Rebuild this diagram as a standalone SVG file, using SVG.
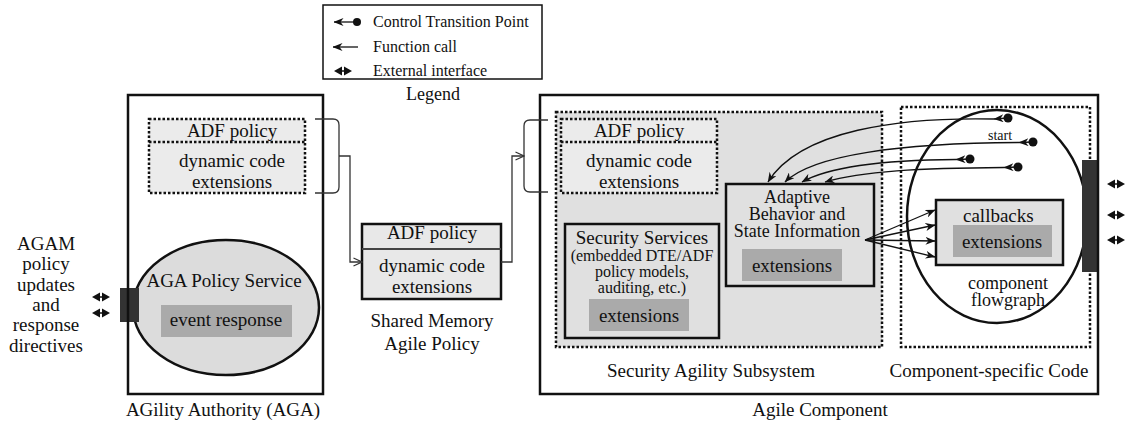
<svg xmlns="http://www.w3.org/2000/svg" width="1127" height="423" viewBox="0 0 1127 423" font-family="'Liberation Serif', 'DejaVu Serif', serif">
<style>
text{font-family:'Liberation Serif','Times New Roman','DejaVu Serif',serif;fill:#111;font-size:19px}
.c{text-anchor:middle}
.s16{font-size:16px}
.s14{font-size:14px}
.s18{font-size:18px}
.frame{fill:none;stroke:#111;stroke-width:2.5}
.dot{stroke:#111;stroke-width:2.5;stroke-dasharray:2.5,2}
.solid{stroke:#111;stroke-width:2.5}
.ext{fill:#aaaaaa}
.bar{fill:#333}
.thin{fill:none;stroke:#333;stroke-width:1.3}
.ln{fill:none;stroke:#111;stroke-width:1.3}
</style>
<defs>
<marker id="ah" viewBox="0 0 10 8" refX="9.5" refY="4" markerWidth="10" markerHeight="8" markerUnits="userSpaceOnUse" orient="auto">
<path d="M0,0 L10,4 L0,8 L3,4 Z" fill="#111"/>
</marker>
<marker id="open" viewBox="0 0 10 10" refX="9.5" refY="5" markerWidth="10" markerHeight="10" markerUnits="userSpaceOnUse" orient="auto">
<path d="M1,1 L9.5,5 L1,9" fill="none" stroke="#333" stroke-width="1.2"/>
</marker>
<g id="dbl">
<path d="M0,0 L8,-4.5 L8,4.5 Z M18,0 L10,-4.5 L10,4.5 Z" fill="#111"/>
<path d="M6,0 H12" stroke="#111" stroke-width="1.5"/>
</g>
</defs>
<rect width="1127" height="423" fill="#fff"/>

<g id="legend">
<rect x="323" y="5" width="219" height="74" fill="#fff" stroke="#111" stroke-width="1.5"/>
<path d="M350,22 L334,22" class="ln" marker-end="url(#ah)"/>
<path d="M350,22 H356" class="ln"/>
<circle cx="357" cy="22" r="4" fill="#111"/>
<path d="M358,47 L333,47" class="ln" marker-end="url(#ah)"/>
<use href="#dbl" x="334" y="71"/>
<text x="373" y="27" class="s16">Control Transition Point</text>
<text x="373" y="52" class="s16">Function call</text>
<text x="373" y="76" class="s16">External interface</text>
<text x="433" y="100" class="c s18">Legend</text>
</g>

<g id="agam-label">
<text x="46" y="250" class="c">AGAM</text>
<text x="46" y="270" class="c">policy</text>
<text x="46" y="291" class="c">updates</text>
<text x="46" y="311" class="c">and</text>
<text x="46" y="331" class="c">response</text>
<text x="46" y="352" class="c">directives</text>
<use href="#dbl" x="92" y="297"/>
<use href="#dbl" x="92" y="313"/>
</g>

<g id="aga">
<rect x="149" y="119" width="156" height="74" fill="#ebebeb" class="dot"/>
<line x1="149" y1="142" x2="305" y2="142" class="dot"/>
<text x="232" y="137" class="c">ADF policy</text>
<text x="232" y="167" class="c">dynamic code</text>
<text x="232" y="188" class="c">extensions</text>
<ellipse cx="226" cy="307.5" rx="93" ry="67.5" fill="#dcdcdc" class="solid"/>
<text x="224" y="287" class="c">AGA Policy Service</text>
<rect x="161" y="305" width="131" height="32" class="ext"/>
<text x="226" y="326" class="c">event response</text>
<rect x="120" y="288" width="19" height="34" class="bar"/>
<rect x="128" y="95" width="195" height="299" class="frame"/>
<text x="223" y="416" class="c">AGility Authority (AGA)</text>
</g>

<g id="shared-memory">
<rect x="362" y="224" width="139" height="75" fill="#e8e8e8" class="solid"/>
<line x1="362" y1="249" x2="501" y2="249" stroke="#444" stroke-width="2"/>
<text x="432" y="239" class="c">ADF policy</text>
<text x="432" y="272" class="c">dynamic code</text>
<text x="432" y="293" class="c">extensions</text>
<text x="432" y="327" class="c">Shared Memory</text>
<text x="432" y="350" class="c">Agile Policy</text>
</g>

<g id="agile-component">
<rect x="556" y="112" width="326" height="235" fill="#e0e0e0" class="dot"/>
<rect x="561" y="119" width="156" height="74" fill="#ebebeb" class="dot"/>
<line x1="561" y1="142" x2="717" y2="142" class="dot"/>
<text x="639" y="137" class="c">ADF policy</text>
<text x="639" y="167" class="c">dynamic code</text>
<text x="639" y="188" class="c">extensions</text>
<text x="711" y="377" class="c">Security Agility Subsystem</text>
<rect x="901" y="107" width="189" height="240" fill="#fff" class="dot"/>
<ellipse cx="997" cy="216.5" rx="90" ry="106.5" fill="#fff" class="solid"/>
<text x="989" y="377" class="c">Component-specific Code</text>
<rect x="1082" y="160" width="16" height="112" class="bar"/>
<rect x="540" y="95" width="558" height="299" class="frame"/>
<text x="820" y="416" class="c">Agile Component</text>
<use href="#dbl" x="1107" y="184"/>
<use href="#dbl" x="1107" y="215"/>
<use href="#dbl" x="1107" y="240"/>
</g>

<g id="security-services">
<rect x="565" y="224" width="154" height="114" fill="#e0e0e0" class="solid"/>
<text x="642" y="244" class="c">Security Services</text>
<text x="642" y="261" class="c s16">(embedded DTE/ADF</text>
<text x="642" y="277" class="c s16">policy models,</text>
<text x="642" y="293" class="c s16">auditing, etc.)</text>
<rect x="589" y="299" width="100" height="32" class="ext"/>
<text x="639" y="322" class="c">extensions</text>
</g>

<g id="adaptive">
<rect x="726" y="184" width="148" height="102" fill="#e0e0e0" class="solid"/>
<text x="797" y="203" class="c s18">Adaptive</text>
<text x="797" y="220" class="c s18">Behavior and</text>
<text x="797" y="237" class="c s18">State Information</text>
<rect x="742" y="249" width="100" height="32" class="ext"/>
<text x="792" y="272" class="c">extensions</text>
</g>

<g id="callbacks">
<rect x="936" y="200" width="127" height="65" fill="#e0e0e0" class="solid"/>
<text x="963" y="222">callbacks</text>
<rect x="953" y="225" width="99" height="32" class="ext"/>
<text x="1002" y="248" class="c">extensions</text>
</g>

<g id="flowgraph-label">
<text x="1008" y="289" class="c s18">component</text>
<text x="1008" y="306" class="c s18">flowgraph</text>
<text x="1000" y="140" class="c s14">start</text>
</g>

<g id="connectors">
<path d="M315,119 H333 Q339,119 339,125 V187 Q339,193 333,193 H315" class="thin"/>
<path d="M339,156 H350 V262 H362" class="thin" marker-end="url(#open)"/>
<path d="M548,120 H530 Q524,120 524,126 V186 Q524,192 530,192 H548" class="thin"/>
<path d="M501,262 H512 V156 H524" class="thin" marker-end="url(#open)"/>

<circle cx="1008" cy="118" r="4.5" fill="#111"/>
<path d="M1008,118 L994,119" class="ln" marker-end="url(#ah)"/>
<path d="M994,119 C900,117 800,130 768,182" class="ln" marker-end="url(#ah)"/>

<circle cx="1033" cy="142" r="4.5" fill="#111"/>
<path d="M1033,142 L1019,142.5" class="ln" marker-end="url(#ah)"/>
<path d="M1019,142.5 C900,143 812,155 785,182" class="ln" marker-end="url(#ah)"/>

<circle cx="970" cy="159" r="4.5" fill="#111"/>
<path d="M970,159 L956,159.5" class="ln" marker-end="url(#ah)"/>
<path d="M956,159.5 C890,160 832,165 802,182" class="ln" marker-end="url(#ah)"/>

<circle cx="1018" cy="167" r="4.5" fill="#111"/>
<path d="M1018,167 L1004,167.5" class="ln" marker-end="url(#ah)"/>
<path d="M1004,167.5 C920,168 862,171 825,182" class="ln" marker-end="url(#ah)"/>

<path d="M865,240 L935,210" class="ln" marker-end="url(#ah)"/>
<path d="M865,240 L935,225" class="ln" marker-end="url(#ah)"/>
<path d="M865,240 L935,241" class="ln" marker-end="url(#ah)"/>
<path d="M865,240 L935,257" class="ln" marker-end="url(#ah)"/>
</g>
</svg>
